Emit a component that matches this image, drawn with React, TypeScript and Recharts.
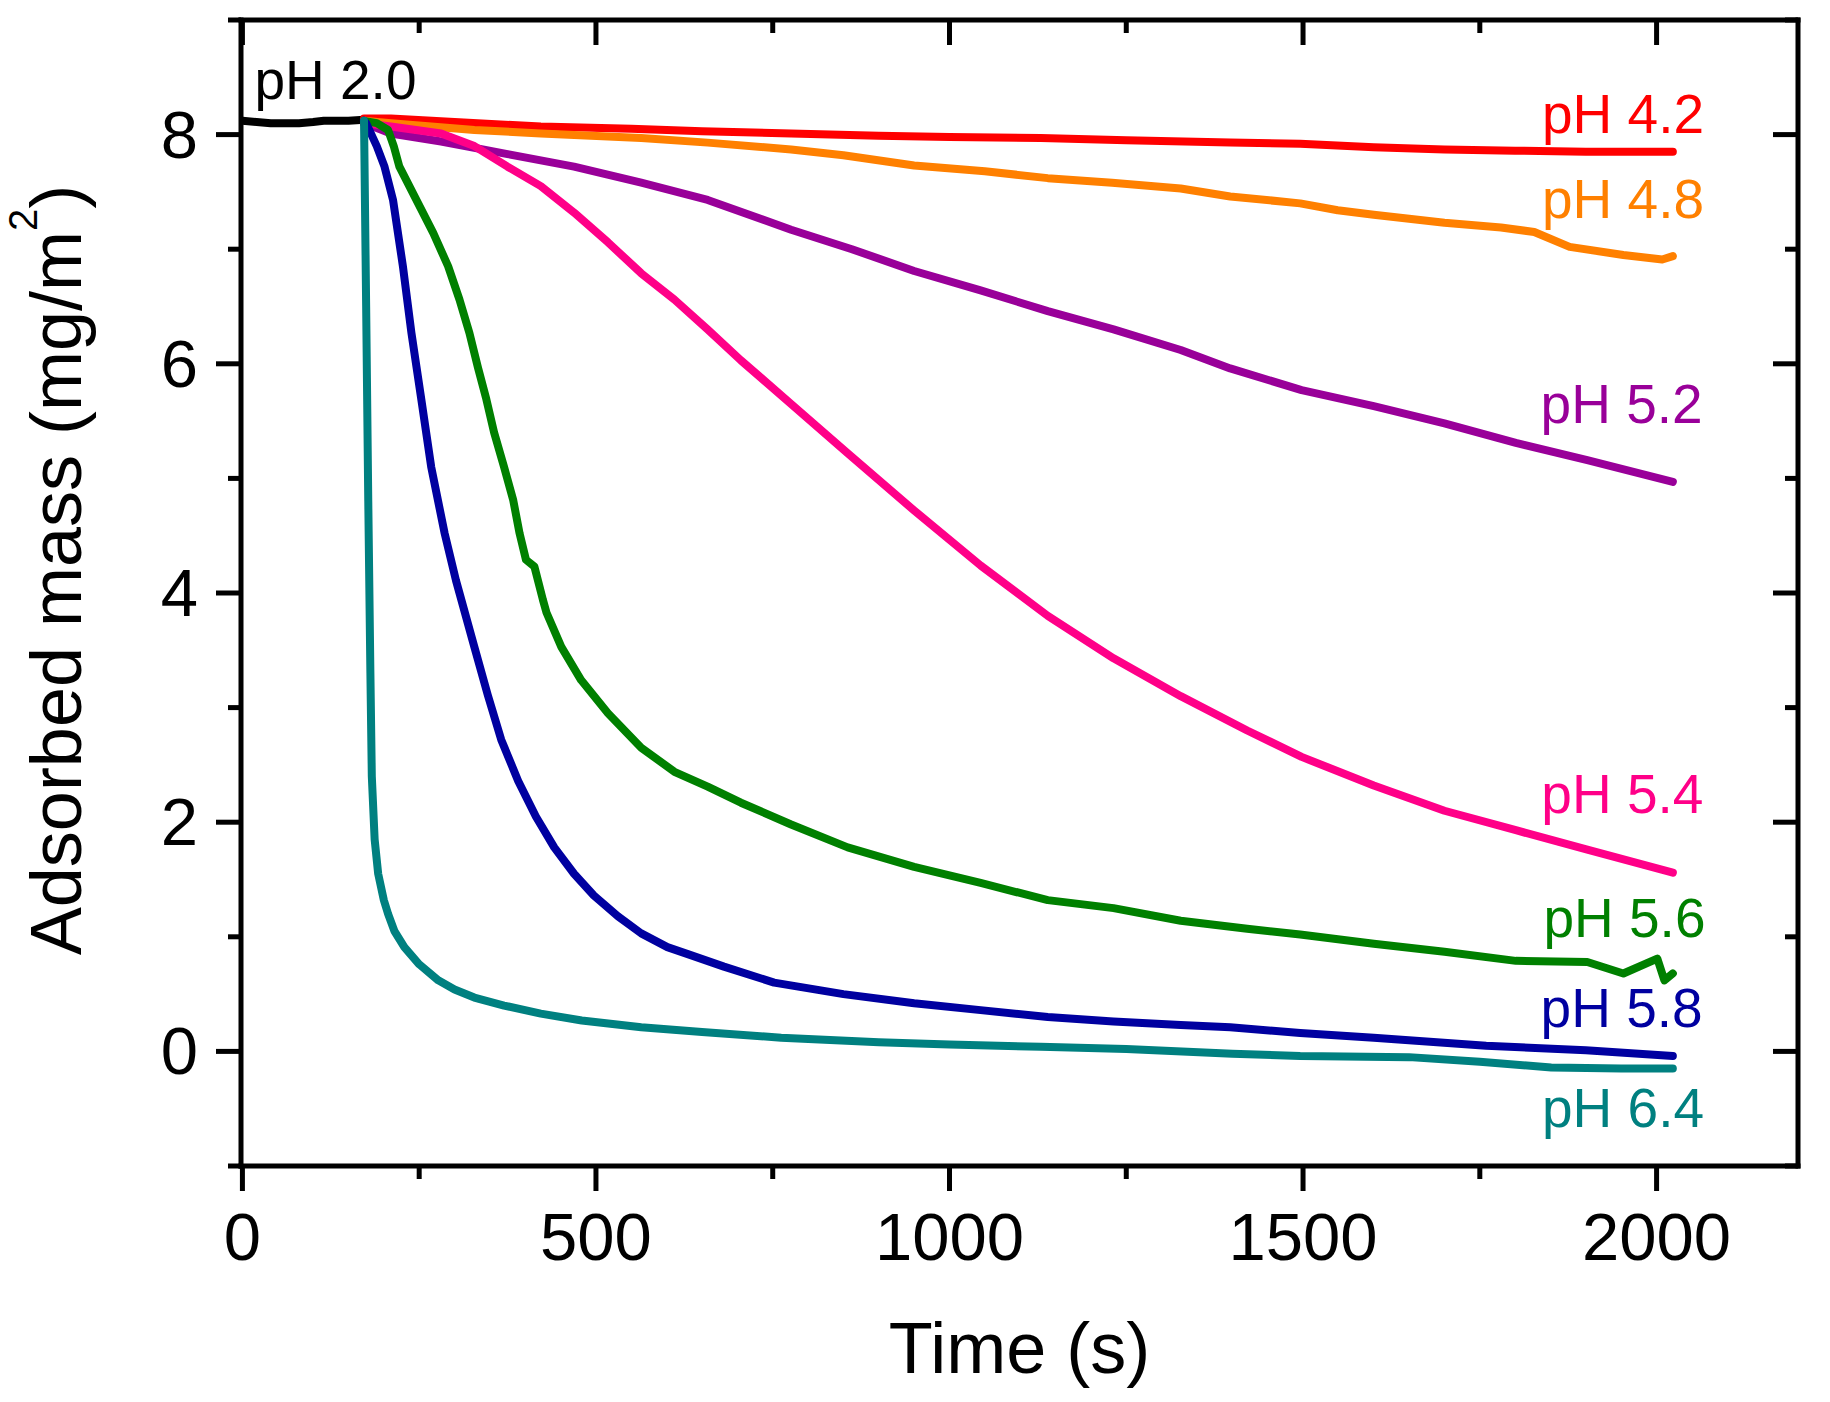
import React from 'react';
import { LineChart, Line, XAxis, YAxis, ReferenceDot, Label } from 'recharts';

const FONT = '"Liberation Sans", Arial, Helvetica, sans-serif';

// ---- layout constants (not data) ----
const CHART_W = 1830;
const CHART_H = 1402;
const PLOT_LEFT = 241;
const PLOT_TOP = 20;
const PLOT_RIGHT = 1798;
const PLOT_BOTTOM = 1166;

// ---- axes ----
const xDomain = [-2, 2200];
const yDomain = [-1, 9];
const xTicks = [0, 250, 500, 750, 1000, 1250, 1500, 1750, 2000];
const yTicks = [-1, 0, 1, 2, 3, 4, 5, 6, 7, 8, 9];
const xTitle = 'Time (s)';
const yTitleMain = 'Adsorbed mass (mg/m';
const yTitleSup = '2';
const yTitleEnd = ')';

// ---- series values ----
const ph20Time = [0, 20, 40, 60, 80, 100, 115, 130, 150, 172];
const ph20Mass = [8.12, 8.11, 8.10, 8.10, 8.10, 8.11, 8.12, 8.12, 8.12, 8.13];

const ph42Time = [172, 210, 300, 422, 550, 650, 776, 900, 1000, 1129, 1250, 1397, 1496, 1600, 1700, 1800, 1900, 2023];
const ph42Mass = [8.14, 8.14, 8.11, 8.07, 8.05, 8.03, 8.01, 7.99, 7.98, 7.97, 7.95, 7.93, 7.92, 7.89, 7.87, 7.86, 7.85, 7.85];

const ph48Time = [172, 210, 328, 422, 564, 658, 776, 850, 950, 1050, 1139, 1230, 1327, 1397, 1496, 1549, 1600, 1700, 1780, 1827, 1877, 1953, 2008, 2023];
const ph48Mass = [8.12, 8.10, 8.04, 8.01, 7.97, 7.93, 7.87, 7.82, 7.73, 7.68, 7.62, 7.58, 7.53, 7.46, 7.40, 7.34, 7.30, 7.23, 7.19, 7.15, 7.02, 6.95, 6.91, 6.94];

const ph52Time = [172, 210, 281, 375, 469, 564, 658, 776, 862, 950, 1044, 1139, 1232, 1327, 1397, 1498, 1600, 1700, 1801, 1902, 2023];
const ph52Mass = [8.10, 8.01, 7.94, 7.83, 7.72, 7.58, 7.43, 7.17, 7.00, 6.81, 6.64, 6.46, 6.30, 6.12, 5.96, 5.77, 5.63, 5.48, 5.31, 5.16, 4.97];

const ph54Time = [172, 210, 281, 328, 375, 422, 469, 517, 564, 611, 658, 705, 776, 856, 950, 1044, 1139, 1232, 1327, 1421, 1498, 1600, 1700, 1801, 1902, 2023];
const ph54Mass = [8.10, 8.07, 8.01, 7.90, 7.72, 7.55, 7.32, 7.06, 6.79, 6.56, 6.30, 6.03, 5.65, 5.22, 4.72, 4.24, 3.80, 3.43, 3.10, 2.80, 2.57, 2.32, 2.10, 1.93, 1.76, 1.56];

const ph56Time = [172, 190, 206, 214, 222, 246, 270, 291, 307, 321, 333, 345, 356, 370, 383, 392, 401, 413, 425, 430, 451, 479, 517, 564, 611, 658, 705, 776, 856, 950, 1044, 1139, 1232, 1327, 1421, 1496, 1600, 1700, 1801, 1902, 1953, 2001, 2011, 2023];
const ph56Mass = [8.12, 8.10, 8.04, 7.90, 7.72, 7.43, 7.14, 6.85, 6.56, 6.27, 5.97, 5.69, 5.40, 5.10, 4.81, 4.52, 4.29, 4.23, 3.94, 3.83, 3.53, 3.24, 2.95, 2.65, 2.44, 2.31, 2.17, 1.98, 1.78, 1.61, 1.47, 1.32, 1.25, 1.14, 1.07, 1.02, 0.94, 0.87, 0.79, 0.78, 0.68, 0.81, 0.62, 0.68];

const ph58Time = [172, 175, 190, 201, 213, 227, 239, 253, 267, 286, 302, 328, 347, 366, 390, 415, 441, 469, 497, 531, 564, 601, 634, 681, 752, 850, 950, 1044, 1139, 1232, 1327, 1397, 1496, 1600, 1759, 1900, 2023];
const ph58Mass = [8.12, 8.10, 7.90, 7.72, 7.43, 6.85, 6.27, 5.69, 5.10, 4.52, 4.11, 3.53, 3.11, 2.72, 2.36, 2.05, 1.78, 1.55, 1.36, 1.18, 1.03, 0.91, 0.84, 0.74, 0.60, 0.50, 0.42, 0.36, 0.30, 0.26, 0.23, 0.21, 0.16, 0.12, 0.05, 0.01, -0.04];

const ph64Time = [172, 175, 178, 181, 183, 187, 192, 200, 206, 215, 229, 250, 277, 300, 328, 370, 422, 480, 564, 650, 762, 900, 1000, 1129, 1250, 1400, 1496, 1650, 1750, 1851, 1950, 2023];
const ph64Mass = [8.12, 6.5, 4.8, 3.3, 2.4, 1.85, 1.55, 1.32, 1.20, 1.05, 0.91, 0.76, 0.62, 0.54, 0.47, 0.40, 0.33, 0.27, 0.21, 0.17, 0.12, 0.08, 0.06, 0.04, 0.02, -0.02, -0.04, -0.05, -0.09, -0.14, -0.15, -0.15];

// ---- series labels ----
const seriesNames = ['pH 2.0', 'pH 4.2', 'pH 4.8', 'pH 5.2', 'pH 5.4', 'pH 5.6', 'pH 5.8', 'pH 6.4'];
const seriesColors = ['#000000', '#FF0000', '#FF8000', '#990099', '#FF0088', '#008000', '#0000A0', '#008080'];
const seriesTimes = [ph20Time, ph42Time, ph48Time, ph52Time, ph54Time, ph56Time, ph58Time, ph64Time];
const seriesMasses = [ph20Mass, ph42Mass, ph48Mass, ph52Mass, ph54Mass, ph56Mass, ph58Mass, ph64Mass];
const labelTime = [17, 1838, 1838, 1836, 1837, 1840, 1836, 1838];
const labelMass = [8.31, 8.01, 7.27, 5.48, 2.08, 1.00, 0.21, -0.66];

const series = seriesNames.map((name, i) => ({
  name,
  color: seriesColors[i],
  data: seriesTimes[i].map((t, j) => ({ t, v: seriesMasses[i][j] })),
  labelT: labelTime[i],
  labelV: labelMass[i],
}));

const TICK_W = 5;
const MAJOR = 25;
const MINOR = 13;

const BottomTick = (props: any) => {
  const { x, payload } = props;
  const v = payload.value;
  const major = v % 500 === 0;
  return (
    <g>
      <line x1={x} x2={x} y1={PLOT_BOTTOM} y2={PLOT_BOTTOM + (major ? MAJOR : MINOR)} stroke="#000" strokeWidth={TICK_W} />
      {major && (
        <text x={x} y={PLOT_BOTTOM + 94} textAnchor="middle" fontSize={67} fontFamily={FONT} fill="#000">
          {v}
        </text>
      )}
    </g>
  );
};

const TopTick = (props: any) => {
  const { x, payload } = props;
  const major = payload.value % 500 === 0;
  return <line x1={x} x2={x} y1={PLOT_TOP} y2={PLOT_TOP + (major ? MAJOR : MINOR)} stroke="#000" strokeWidth={TICK_W} />;
};

const LeftTick = (props: any) => {
  const { y, payload } = props;
  const v = payload.value;
  const major = v % 2 === 0;
  return (
    <g>
      <line x1={PLOT_LEFT} x2={PLOT_LEFT - (major ? MAJOR : MINOR)} y1={y} y2={y} stroke="#000" strokeWidth={TICK_W} />
      {major && (
        <text x={PLOT_LEFT - 43} y={y + 23} textAnchor="end" fontSize={67} fontFamily={FONT} fill="#000">
          {v}
        </text>
      )}
    </g>
  );
};

const RightTick = (props: any) => {
  const { y, payload } = props;
  const major = payload.value % 2 === 0;
  return <line x1={PLOT_RIGHT} x2={PLOT_RIGHT - (major ? MAJOR : MINOR)} y1={y} y2={y} stroke="#000" strokeWidth={TICK_W} />;
};

const XTitle = () => (
  <text x={(PLOT_LEFT + PLOT_RIGHT) / 2} y={1373} textAnchor="middle" fontSize={72} fontFamily={FONT} fill="#000">
    {xTitle}
  </text>
);

const YTitle = () => (
  <text transform="translate(81,570) rotate(-90)" textAnchor="middle" fontSize={72} fontFamily={FONT} fill="#000">
    {yTitleMain}
    <tspan fontSize={40} dy={-44}>{yTitleSup}</tspan>
    <tspan dy={44}>{yTitleEnd}</tspan>
  </text>
);

const axisLineStyle = { stroke: '#000', strokeWidth: 5, strokeLinecap: 'square' as const };

export default function App() {
  return (
    <div style={{ position: 'absolute', left: 0, top: 0, width: CHART_W, height: CHART_H, background: '#fff' }}>
      <LineChart
        width={CHART_W}
        height={CHART_H}
        margin={{ top: PLOT_TOP, right: CHART_W - PLOT_RIGHT, left: PLOT_LEFT - 200, bottom: CHART_H - PLOT_BOTTOM - 100 }}
      >
        <XAxis
          xAxisId="b"
          type="number"
          dataKey="t"
          domain={xDomain}
          allowDataOverflow
          ticks={xTicks}
          interval={0}
          height={100}
          tickSize={0}
          tickMargin={0}
          tickLine={false}
          axisLine={axisLineStyle}
          tick={<BottomTick />}
        >
          <Label content={<XTitle />} />
        </XAxis>
        <XAxis
          xAxisId="t"
          orientation="top"
          mirror
          type="number"
          dataKey="t"
          domain={xDomain}
          allowDataOverflow
          ticks={xTicks}
          interval={0}
          tickSize={0}
          tickMargin={0}
          tickLine={false}
          axisLine={axisLineStyle}
          tick={<TopTick />}
        />
        <YAxis
          yAxisId="l"
          type="number"
          domain={yDomain}
          allowDataOverflow
          ticks={yTicks}
          interval={0}
          width={200}
          tickSize={0}
          tickMargin={0}
          tickLine={false}
          axisLine={axisLineStyle}
          tick={<LeftTick />}
        >
          <Label content={<YTitle />} />
        </YAxis>
        <YAxis
          yAxisId="r"
          orientation="right"
          mirror
          type="number"
          domain={yDomain}
          allowDataOverflow
          ticks={yTicks}
          interval={0}
          tickSize={0}
          tickMargin={0}
          tickLine={false}
          axisLine={axisLineStyle}
          tick={<RightTick />}
        />
        {series.map((s) => (
          <Line
            key={s.name}
            xAxisId="b"
            yAxisId="l"
            data={s.data}
            dataKey="v"
            type="linear"
            stroke={s.color}
            strokeWidth={8}
            strokeLinecap="round"
            strokeLinejoin="round"
            dot={false}
            activeDot={false}
            isAnimationActive={false}
          />
        ))}
        {series.map((s) => (
          <ReferenceDot
            key={'lbl-' + s.name}
            xAxisId="b"
            yAxisId="l"
            x={s.labelT}
            y={s.labelV}
            r={0}
            ifOverflow="visible"
            shape={(p: any) => (
              <text x={p.cx} y={p.cy} fill={s.color} fontSize={55} fontFamily={FONT}>
                {s.name}
              </text>
            )}
          />
        ))}
      </LineChart>
    </div>
  );
}
